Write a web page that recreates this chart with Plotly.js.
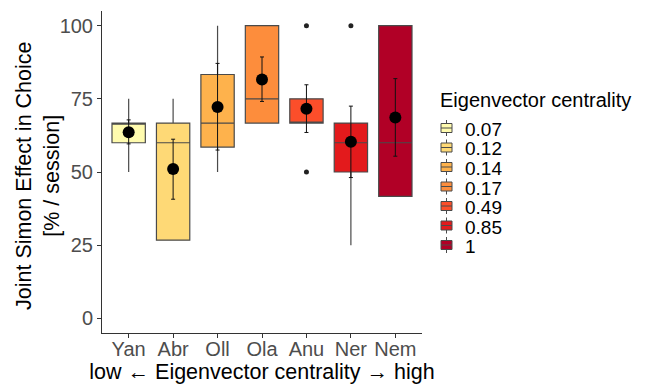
<!DOCTYPE html>
<html>
<head>
<meta charset="utf-8">
<script src="https://cdn.plot.ly/plotly-3.0.1.min.js"></script>
<style>html,body{margin:0;padding:0;background:#fff;}#chart{width:648px;height:386px;}</style>
</head>
<body>
<div id="chart"></div>
<script>
const categories = ["Yan", "Abr", "Oll", "Ola", "Anu", "Ner", "Nem"];
const centrality = ["0.07", "0.12", "0.14", "0.17", "0.49", "0.85", "1"];
const colors = ["#FFFBAE", "#FED976", "#FEB24C", "#FD8D3C", "#FC4E2A", "#E31A1C", "#B10026"];
const q1 = [60, 26.7, 58.5, 66.7, 66.7, 50, 41.7];
const median = [66.7, 60, 66.7, 75, 66.7, 60, 60];
const q3 = [66.7, 66.7, 83.3, 100, 75, 66.7, 100];
const lowerFence = [50, 26.7, 50, 66.7, 66.7, 25, 41.7];
const upperFence = [75, 75, 100, 100, 75, 66.7, 100];
const meanVal = [63.6, 51.0, 72.2, 81.6, 71.6, 60.3, 68.6];
const seUpper = [67.8, 61.2, 87.1, 89.3, 79.8, 72.5, 81.9];
const seLower = [59.6, 40.7, 57.5, 74.1, 63.5, 48.1, 55.4];
const outlierCat = ["Anu", "Anu", "Ner"];
const outlierVal = [100, 50, 100];
const legendTitle = "Eigenvector centrality";
const yTitle = "Joint Simon Effect in Choice<br>[% / session]";
const xTitle = "low \u2190 Eigenvector centrality \u2192 high";

const W = 648, H = 386;
const M = {l: 102, r: 226, t: 11, b: 53};
const pw = W - M.l - M.r, ph = H - M.t - M.b;
const px2x = px => (px - M.l) / pw;
const py2y = py => (H - M.b - py) / ph;
const FONT = "Liberation Sans, Arial, sans-serif";

const traces = [];
categories.forEach((c, i) => {
  traces.push({
    type: "box",
    name: centrality[i],
    x: [c],
    q1: [q1[i]], median: [median[i]], q3: [q3[i]],
    lowerfence: [lowerFence[i]], upperfence: [upperFence[i]],
    boxpoints: false,
    width: 0.75,
    whiskerwidth: 0,
    fillcolor: colors[i],
    line: {color: "#4a4a4a", width: 1.2},
    hoverinfo: "skip",
    showlegend: false
  });
});
traces.push({
  type: "scatter", mode: "markers",
  x: outlierCat, y: outlierVal,
  marker: {color: "#222222", size: 5},
  showlegend: false, hoverinfo: "skip"
});
traces.push({
  type: "scatter", mode: "markers",
  x: categories, y: meanVal,
  marker: {color: "#000000", size: 12},
  error_y: {
    type: "data", symmetric: false,
    array: meanVal.map((m, i) => seUpper[i] - m),
    arrayminus: meanVal.map((m, i) => m - seLower[i]),
    color: "#111111", thickness: 1, width: 2
  },
  showlegend: false, hoverinfo: "skip"
});

// legend drawn in ggplot style (compact keys)
const shapes = [];
const annotations = [];
annotations.push({
  xref: "paper", yref: "paper", x: px2x(438), y: py2y(100),
  xanchor: "left", yanchor: "middle", showarrow: false,
  text: legendTitle, font: {family: FONT, size: 20, color: "#000"}
});
centrality.forEach((lab, i) => {
  const cy = 128 + i * 19.5;
  const kx0 = 441, kx1 = 452, kc = (kx0 + kx1) / 2;
  shapes.push({type: "line", xref: "paper", yref: "paper",
    x0: px2x(kc), x1: px2x(kc), y0: py2y(cy - 8), y1: py2y(cy + 8),
    line: {color: "#4a4a4a", width: 1}});
  shapes.push({type: "rect", xref: "paper", yref: "paper",
    x0: px2x(kx0), x1: px2x(kx1), y0: py2y(cy - 4.5), y1: py2y(cy + 4.5),
    fillcolor: colors[i], line: {color: "#4a4a4a", width: 1}});
  shapes.push({type: "line", xref: "paper", yref: "paper",
    x0: px2x(kx0), x1: px2x(kx1), y0: py2y(cy), y1: py2y(cy),
    line: {color: "#4a4a4a", width: 1}});
  annotations.push({
    xref: "paper", yref: "paper", x: px2x(464), y: py2y(cy + 1),
    xanchor: "left", yanchor: "middle", showarrow: false,
    height: 18, borderpad: 0,
    text: lab, font: {family: FONT, size: 19, color: "#000"}
  });
});
// y-axis title placed close to tick labels, as in the reference
annotations.push({
  xref: "paper", yref: "paper", x: px2x(38), y: py2y(176),
  xanchor: "center", yanchor: "middle", showarrow: false, textangle: -90,
  text: yTitle, font: {family: FONT, size: 21.5, color: "#000"}
});

const layout = {
  width: W, height: H,
  margin: M,
  paper_bgcolor: "#ffffff", plot_bgcolor: "#ffffff",
  font: {family: FONT, color: "#000000"},
  boxmode: "overlay",
  showlegend: false,
  shapes: shapes,
  annotations: annotations,
  xaxis: {
    type: "category",
    categoryorder: "array", categoryarray: categories,
    range: [-0.6, 6.6],
    showgrid: false, zeroline: false,
    showline: true, linecolor: "#333333", linewidth: 1,
    ticks: "outside", ticklen: 4, tickcolor: "#333333",
    ticklabelstandoff: -6,
    tickfont: {size: 20, color: "#4d4d4d"},
    title: {text: xTitle, font: {size: 21.5, color: "#000000"}, standoff: 0}
  },
  yaxis: {
    range: [-5, 105],
    tickvals: [0, 25, 50, 75, 100],
    showgrid: false, zeroline: false,
    showline: true, linecolor: "#333333", linewidth: 1,
    ticks: "outside", ticklen: 4, tickcolor: "#333333",
    tickfont: {size: 20, color: "#4d4d4d"}
  }
};

Plotly.newPlot("chart", traces, layout, {displayModeBar: false, staticPlot: true});
</script>
</body>
</html>
